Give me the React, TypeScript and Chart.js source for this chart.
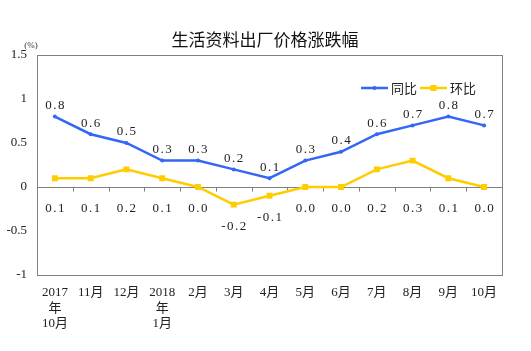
import { useEffect, useRef } from 'react';
import { Chart, registerables } from 'chart.js';

Chart.register(...registerables);

const titleText = '生活资料出厂价格涨跌幅';
const unitText = '(%)';
const categories: (string | string[])[] = [
  ['2017', '年', '10月'], '11月', '12月', ['2018', '年', '1月'], '2月', '3月', '4月',
  '5月', '6月', '7月', '8月', '9月', '10月',
];
const yoyName = '同比';
const momName = '环比';
const yoyValues = [0.8, 0.6, 0.5, 0.3, 0.3, 0.2, 0.1, 0.3, 0.4, 0.6, 0.7, 0.8, 0.7];
const momValues = [0.1, 0.1, 0.2, 0.1, 0.0, -0.2, -0.1, 0.0, 0.0, 0.2, 0.3, 0.1, 0.0];
const yMin = -1;
const yMax = 1.5;
const yStep = 0.5;

const BLUE = '#3366f5';
const YELLOW = '#ffcc00';
const SERIF = '"Liberation Serif", "Noto Sans CJK SC", serif';
const CJK = '"Noto Sans CJK SC", sans-serif';

const overlay = {
  id: 'overlay',
  beforeDatasetsDraw(chart: any) {
    const { ctx, chartArea, scales } = chart;
    const x = scales.x;
    const y = scales.y;
    ctx.save();
    ctx.strokeStyle = '#808080';
    ctx.lineWidth = 1;
    ctx.strokeRect(
      Math.round(chartArea.left) + 0.5,
      Math.round(chartArea.top) + 0.5,
      Math.round(chartArea.right - chartArea.left),
      Math.round(chartArea.bottom - chartArea.top)
    );
    const zy = Math.round(y.getPixelForValue(0)) + 0.5;
    ctx.beginPath();
    ctx.moveTo(chartArea.left, zy);
    ctx.lineTo(chartArea.right, zy);
    for (let i = 1; i < categories.length; i++) {
      const bx = Math.round((x.getPixelForValue(i - 1) + x.getPixelForValue(i)) / 2) + 0.5;
      ctx.moveTo(bx, zy);
      ctx.lineTo(bx, zy + 4);
    }
    ctx.stroke();
    ctx.restore();
  },
  afterDatasetsDraw(chart: any) {
    const { ctx, scales } = chart;
    const x = scales.x;
    const y = scales.y;
    ctx.save();
    ctx.fillStyle = '#222';
    ctx.textAlign = 'center';
    ctx.textBaseline = 'middle';
    ctx.font = `13px ${SERIF}`;
    try { (ctx as any).letterSpacing = '1.5px'; } catch (e) {}
    const zy = y.getPixelForValue(0);
    yoyValues.forEach((v, i) => {
      ctx.fillText(v.toFixed(1), x.getPixelForValue(i) + 0.75, y.getPixelForValue(v) - 11);
    });
    momValues.forEach((v, i) => {
      const py = Math.max(zy, y.getPixelForValue(v));
      ctx.fillText(v.toFixed(1), x.getPixelForValue(i) + 0.75, py + 22);
    });
    try { (ctx as any).letterSpacing = '0px'; } catch (e) {}

    ctx.font = `17px ${CJK}`;
    ctx.fillStyle = '#111';
    ctx.fillText(titleText, 265, 40);
    ctx.font = `9px ${SERIF}`;
    ctx.fillStyle = '#333';
    ctx.fillText(unitText, 31, 46);

    const ly = 88;
    ctx.lineWidth = 2.5;
    ctx.strokeStyle = BLUE;
    ctx.beginPath();
    ctx.moveTo(361, ly);
    ctx.lineTo(388, ly);
    ctx.stroke();
    ctx.fillStyle = BLUE;
    ctx.beginPath();
    ctx.arc(374.5, ly, 2, 0, Math.PI * 2);
    ctx.fill();
    ctx.strokeStyle = YELLOW;
    ctx.beginPath();
    ctx.moveTo(420, ly);
    ctx.lineTo(447, ly);
    ctx.stroke();
    ctx.fillStyle = YELLOW;
    ctx.fillRect(430.5, ly - 3, 6, 6);
    ctx.fillStyle = '#222';
    ctx.textAlign = 'left';
    ctx.font = `13px ${CJK}`;
    ctx.fillText(yoyName, 391, ly);
    ctx.fillText(momName, 450, ly);
    ctx.restore();
  },
};

export default function App() {
  const ref = useRef<HTMLCanvasElement | null>(null);
  useEffect(() => {
    if (!ref.current) return;
    const chart = new Chart(ref.current, {
      type: 'line',
      data: {
        labels: categories,
        datasets: [
          {
            label: yoyName,
            data: yoyValues,
            borderColor: BLUE,
            backgroundColor: BLUE,
            borderWidth: 2.5,
            pointRadius: 2,
            pointStyle: 'circle',
            pointBorderWidth: 0,
            tension: 0,
          },
          {
            label: momName,
            data: momValues,
            borderColor: YELLOW,
            backgroundColor: YELLOW,
            borderWidth: 2.5,
            pointRadius: 4.2,
            pointStyle: 'rect',
            pointBorderWidth: 0,
            tension: 0,
          },
        ],
      },
      options: {
        responsive: false,
        animation: false,
        devicePixelRatio: 1,
        layout: { padding: { top: 55, right: 29, left: 0, bottom: 0 } },
        plugins: {
          legend: { display: false },
          tooltip: { enabled: false },
          title: { display: false },
        },
        scales: {
          x: {
            offset: true,
            grid: { display: false, drawTicks: false },
            border: { display: false },
            ticks: {
              color: '#222',
              padding: 10,
              maxRotation: 0,
              autoSkip: false,
              font: { family: SERIF, size: 13, lineHeight: 1.2 },
            },
            afterFit(scale: any) {
              scale.height = 76;
              scale.paddingLeft = 0;
              scale.paddingRight = 0;
            },
          },
          y: {
            min: yMin,
            max: yMax,
            grid: { display: false, drawTicks: false },
            border: { display: false },
            ticks: {
              stepSize: yStep,
              color: '#222',
              padding: 10,
              font: { family: SERIF, size: 13 },
              callback: (v: any) => String(v),
            },
            afterFit(scale: any) {
              scale.width = 37;
              scale.paddingTop = 0;
              scale.paddingBottom = 0;
            },
          },
        },
      },
      plugins: [overlay],
    });
    return () => chart.destroy();
  }, []);
  return (
    <div style={{ position: 'absolute', left: 0, top: 0, width: 531, height: 351, background: '#fff' }}>
      <canvas ref={ref} width={531} height={351} style={{ display: 'block' }} />
    </div>
  );
}
